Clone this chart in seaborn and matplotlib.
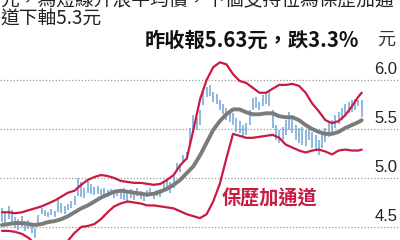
import matplotlib
matplotlib.use("Agg")
import matplotlib.pyplot as plt
import pandas as pd
import seaborn as sns

# ---- data ----
days = list(range(110))
highs = [4.69, 4.64, 4.71, 4.67, 4.60, 4.58, 4.61, 4.56, 4.57, 4.54,
         4.49, 4.62, 4.69, 4.67, 4.65, 4.68, 4.66, 4.80, 4.74, 4.71,
         4.73, 4.77, 4.82, 5.00, 4.96, 4.90, 4.97, 4.94, 4.91, 4.92,
         4.89, 4.90, 4.88, 4.89, 4.87, 4.88, 4.86, 4.90, 4.87, 4.89,
         4.86, 4.90, 4.87, 4.85, 4.88, 4.90, 4.86, 4.88, 4.89, 4.96,
         4.98, 4.96, 5.02, 5.15, 5.13, 5.23, 5.27, 5.51, 5.64, 5.61,
         5.69, 5.88, 5.93, 5.95, 5.88, 5.86, 5.80, 5.76, 5.71, 5.67,
         5.66, 5.61, 5.58, 5.54, 5.56, 5.69, 5.82, 5.83, 5.78, 5.85,
         5.87, 5.88, 5.69, 5.54, 5.49, 5.52, 5.59, 5.67, 5.61, 5.54,
         5.51, 5.52, 5.49, 5.53, 5.47, 5.44, 5.39, 5.46, 5.51, 5.57,
         5.59, 5.64, 5.67, 5.71, 5.76, 5.78, 5.80, 5.81, 5.80, 5.80]
lows = [4.55, 4.51, 4.58, 4.53, 4.49, 4.47, 4.50, 4.46, 4.48, 4.44,
        4.39, 4.53, 4.63, 4.61, 4.60, 4.62, 4.60, 4.65, 4.64, 4.63,
        4.67, 4.69, 4.72, 4.82, 4.81, 4.80, 4.85, 4.84, 4.83, 4.84,
        4.83, 4.82, 4.81, 4.83, 4.80, 4.82, 4.79, 4.78, 4.74, 4.80,
        4.78, 4.82, 4.79, 4.77, 4.81, 4.83, 4.79, 4.82, 4.81, 4.86,
        4.88, 4.85, 4.90, 5.07, 5.06, 5.16, 5.18, 5.34, 5.46, 5.49,
        5.54, 5.74, 5.83, 5.84, 5.78, 5.76, 5.69, 5.65, 5.59, 5.57,
        5.54, 5.47, 5.46, 5.43, 5.44, 5.54, 5.69, 5.71, 5.69, 5.73,
        5.76, 5.73, 5.51, 5.39, 5.36, 5.39, 5.44, 5.49, 5.46, 5.39,
        5.36, 5.34, 5.33, 5.39, 5.31, 5.29, 5.23, 5.31, 5.37, 5.42,
        5.45, 5.51, 5.55, 5.59, 5.63, 5.66, 5.67, 5.69, 5.73, 5.62]

band_days = list(range(0, 110, 2)) + [109]
upper = [4.65, 4.65, 4.64, 4.65, 4.67, 4.69, 4.71, 4.74, 4.77, 4.81,
         4.85, 4.87, 4.93, 4.98, 5.01, 5.03, 5.02, 5.00, 4.97, 4.96,
         4.95, 4.95, 4.94, 4.93, 4.94, 4.98, 5.03, 5.13, 5.20, 5.49,
         5.80, 6.00, 6.13, 6.18, 6.16, 6.06, 5.99, 5.97, 5.92, 5.87,
         5.87, 5.91, 5.95, 5.95, 5.96, 5.94, 5.87, 5.76, 5.68, 5.59,
         5.56, 5.58, 5.64, 5.73, 5.83, 5.87]
middle = [4.52, 4.53, 4.54, 4.54, 4.53, 4.52, 4.53, 4.55, 4.56, 4.58,
          4.61, 4.65, 4.69, 4.72, 4.76, 4.80, 4.83, 4.86, 4.87, 4.86,
          4.85, 4.84, 4.83, 4.84, 4.86, 4.89, 4.93, 4.98, 5.05, 5.12,
          5.23, 5.36, 5.49, 5.58, 5.65, 5.70, 5.70, 5.67, 5.65, 5.65,
          5.66, 5.66, 5.63, 5.62, 5.62, 5.59, 5.54, 5.50, 5.47, 5.45,
          5.45, 5.47, 5.51, 5.54, 5.57, 5.59]
lower = [4.46, 4.46, 4.45, 4.43, 4.39, 4.33, 4.27, 4.23, 4.21, 4.25,
         4.36, 4.44, 4.50, 4.51, 4.53, 4.58, 4.65, 4.71, 4.74, 4.76,
         4.75, 4.74, 4.72, 4.72, 4.71, 4.70, 4.69, 4.66, 4.63, 4.61,
         4.59, 4.63, 4.76, 4.94, 5.20, 5.45, 5.43, 5.41, 5.41, 5.42,
         5.43, 5.44, 5.41, 5.34, 5.31, 5.28, 5.26, 5.28, 5.29, 5.27,
         5.24, 5.28, 5.29, 5.28, 5.28, 5.29]

y_ticks = [4.5, 5.0, 5.5, 6.0]
tick_labels = ["4.5", "5.0", "5.5", "6.0"]
title_lines = ["元，為短線升浪平均價，下個支持位為保歷加通", "道下軸5.3元"]
headline = "昨收報5.63元，跌3.3%"
unit_label = "元"
band_label = "保歷加通道"

# ---- style ----
sns.set_theme(style="white")
plt.rcParams['font.family'] = ['Noto Sans CJK TC', 'DejaVu Sans']

RED = '#c91a43'
GREY = '#7b7b7b'
BLUE = '#6fa6d6'
TEXT = '#222222'

fig = plt.figure(figsize=(4, 2.4), dpi=100)
fig.patch.set_facecolor('white')
ax = fig.add_axes([0, 0, 1, 185 / 240])
ax.set_facecolor('white')

for v in y_ticks:
    ax.axhline(v, xmin=0, xmax=0.995, color='#9a9a9a', lw=0.9,
               ls=(0, (1, 1.6)), zorder=0)

ax.vlines(days, lows, highs, color=BLUE, lw=1.1, zorder=2)

bands = pd.DataFrame({
    'day': band_days * 3,
    'price': upper + middle + lower,
    'band': ['upper'] * len(upper) + ['middle'] * len(middle) + ['lower'] * len(lower),
})
sns.lineplot(data=bands[bands['band'] == 'middle'], x='day', y='price',
             color=GREY, lw=2.8, ax=ax, zorder=3, legend=False)
for b in ['upper', 'lower']:
    sns.lineplot(data=bands[bands['band'] == b], x='day', y='price',
                 color=RED, lw=1.6, ax=ax, zorder=4, legend=False)

ax.set_xlim(-0.6, 120.6)
ax.set_ylim(4.367, 6.255)
ax.axis('off')

trans = ax.get_yaxis_transform()
for v, lab in zip(y_ticks, tick_labels):
    ax.text(0.993, v + 0.035, lab, transform=trans, ha='right', va='bottom',
            fontsize=12, color=TEXT, family=['Liberation Sans', 'DejaVu Sans'])

ax.text(66.6, 4.79, band_label, ha='left', va='center', fontsize=13.8,
        fontweight='bold', color=RED)

fig.text(0.0, 1.0, title_lines[0], ha='left', va='center', fontsize=13.5, color=TEXT)
fig.text(0.0, 1 - 19.5 / 240, title_lines[1], ha='left', va='center', fontsize=13.5, color=TEXT)
fig.text(145 / 400, 1 - 40 / 240, headline, ha='left', va='center', fontsize=14.6,
         fontweight='bold', color='#111111')
fig.text(386 / 400, 1 - 40 / 240, unit_label, ha='center', va='center', fontsize=13,
         color='#333333')

fig.savefig('out.png', dpi=100)
